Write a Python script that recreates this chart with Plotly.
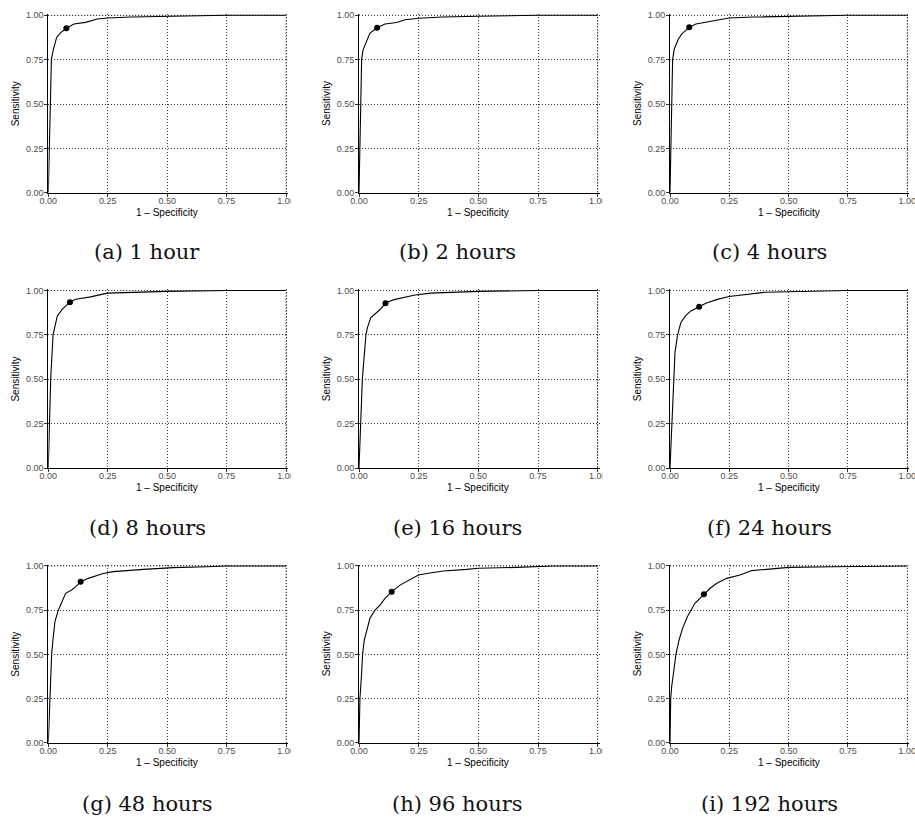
import plotly.graph_objects as go

# ---------------- data ----------------
captions = ["(a) 1 hour", "(b) 2 hours", "(c) 4 hours",
            "(d) 8 hours", "(e) 16 hours", "(f) 24 hours",
            "(g) 48 hours", "(h) 96 hours", "(i) 192 hours"]

fpr_a = [0, 0.002, 0.005, 0.007, 0.013, 0.02, 0.035, 0.05, 0.076, 0.108, 0.157, 0.206, 0.25, 0.35, 0.5, 0.75, 1.0]
tpr_a = [0, 0.10, 0.25, 0.5, 0.75, 0.80, 0.875, 0.90, 0.927, 0.951, 0.96, 0.979, 0.985, 0.99, 0.995, 1.0, 1.0]

fpr_b = [0, 0.003, 0.006, 0.011, 0.017, 0.035, 0.046, 0.076, 0.109, 0.158, 0.193, 0.25, 0.35, 0.5, 0.75, 1.0]
tpr_b = [0, 0.25, 0.5, 0.75, 0.805, 0.87, 0.90, 0.93, 0.951, 0.959, 0.975, 0.983, 0.99, 0.995, 1.0, 1.0]

fpr_c = [0, 0.003, 0.006, 0.011, 0.018, 0.035, 0.05, 0.081, 0.109, 0.164, 0.228, 0.25, 0.35, 0.5, 0.75, 1.0]
tpr_c = [0, 0.25, 0.5, 0.75, 0.81, 0.865, 0.895, 0.932, 0.951, 0.964, 0.983, 0.985, 0.99, 0.995, 1.0, 1.0]

fpr_d = [0, 0.004, 0.01, 0.02, 0.027, 0.038, 0.059, 0.091, 0.115, 0.178, 0.248, 0.35, 0.5, 0.75, 1.0]
tpr_d = [0, 0.25, 0.5, 0.75, 0.80, 0.857, 0.895, 0.934, 0.951, 0.964, 0.985, 0.99, 0.995, 1.0, 1.0]

fpr_e = [0, 0.007, 0.014, 0.029, 0.035, 0.049, 0.088, 0.111, 0.123, 0.151, 0.193, 0.235, 0.3, 0.5, 0.75, 1.0]
tpr_e = [0, 0.25, 0.5, 0.75, 0.79, 0.846, 0.893, 0.928, 0.937, 0.95, 0.964, 0.975, 0.985, 0.995, 1.0, 1.0]

fpr_f = [0, 0.008, 0.014, 0.021, 0.032, 0.046, 0.067, 0.088, 0.123, 0.151, 0.2, 0.249, 0.4, 0.55, 0.75, 1.0]
tpr_f = [0, 0.25, 0.5, 0.65, 0.75, 0.82, 0.86, 0.885, 0.909, 0.928, 0.95, 0.966, 0.99, 0.995, 1.0, 1.0]

fpr_g = [0, 0.007, 0.014, 0.021, 0.028, 0.042, 0.056, 0.073, 0.098, 0.116, 0.136, 0.168, 0.231, 0.273, 0.4, 0.526, 0.666, 0.75, 1.0]
tpr_g = [0, 0.25, 0.5, 0.6, 0.685, 0.75, 0.79, 0.845, 0.864, 0.883, 0.911, 0.93, 0.958, 0.968, 0.981, 0.991, 0.996, 1.0, 1.0]

fpr_h = [0, 0.004, 0.011, 0.015, 0.022, 0.039, 0.046, 0.067, 0.088, 0.109, 0.123, 0.137, 0.172, 0.214, 0.249, 0.284, 0.353, 0.451, 0.5, 0.661, 0.814, 1.0]
tpr_h = [0, 0.25, 0.394, 0.5, 0.58, 0.675, 0.704, 0.75, 0.779, 0.817, 0.836, 0.855, 0.892, 0.921, 0.949, 0.958, 0.972, 0.981, 0.987, 0.992, 1.0, 1.0]

fpr_i = [0, 0.003, 0.007, 0.021, 0.025, 0.038, 0.053, 0.073, 0.087, 0.105, 0.143, 0.169, 0.197, 0.239, 0.295, 0.344, 0.407, 0.5, 0.688, 0.941, 1.0]
tpr_i = [0, 0.25, 0.317, 0.449, 0.5, 0.58, 0.647, 0.713, 0.75, 0.789, 0.84, 0.874, 0.902, 0.93, 0.949, 0.974, 0.981, 0.992, 0.996, 0.996, 1.0]

# optimal cut-off points (1 - specificity, sensitivity)
opt_fpr = [0.076, 0.076, 0.081, 0.091, 0.111, 0.123, 0.136, 0.137, 0.143]
opt_tpr = [0.927, 0.930, 0.932, 0.934, 0.928, 0.909, 0.911, 0.855, 0.840]

tick_vals = [0, 0.25, 0.5, 0.75, 1.0]
x_tick_text = ["0.00", "0.25", "0.50", "0.75", "1.00"]
y_tick_text = ["0.00", "0.25", "0.50", "0.75", "1.00"]

curves = [(fpr_a, tpr_a), (fpr_b, tpr_b), (fpr_c, tpr_c),
          (fpr_d, tpr_d), (fpr_e, tpr_e), (fpr_f, tpr_f),
          (fpr_g, tpr_g), (fpr_h, tpr_h), (fpr_i, tpr_i)]

# ---------------- layout geometry (pixels) ----------------
W, H = 915, 820
col_x = [(48.3, 286.0), (359.0, 597.7), (670.0, 907.3)]
row_y = [(15.3, 192.7), (290.5, 468.0), (566.0, 742.7)]
cap_x = [147, 457, 769]
cap_y = [252, 527.5, 804]
EXT = 0.008  # small range extension so the lines at 1.0 are fully visible
GRID = dict(color="#3a3a3a", width=1, dash="1px,2px")

def px_x(v):
    return v / W

def px_y(v):
    return 1 - v / H

fig = go.Figure()
annotations = []
shapes = []

tick_font = dict(family="Liberation Sans, Arial, sans-serif", size=9, color="#4d4d4d")
title_font = dict(family="Liberation Sans, Arial, sans-serif", size=10, color="#000000")

for k, (fx, ty) in enumerate(curves):
    r, c = divmod(k, 3)
    n = k + 1
    xa = "x" if n == 1 else f"x{n}"
    ya = "y" if n == 1 else f"y{n}"
    fig.add_trace(go.Scatter(x=fx, y=ty, mode="lines", xaxis=xa, yaxis=ya,
                             line=dict(color="black", width=1.1), showlegend=False,
                             hoverinfo="skip"))
    fig.add_trace(go.Scatter(x=[opt_fpr[k]], y=[opt_tpr[k]], mode="markers",
                             xaxis=xa, yaxis=ya, cliponaxis=False,
                             marker=dict(color="black", size=6), showlegend=False))
    x0, x1 = col_x[c]
    y0, y1 = row_y[r]
    wpx = x1 - x0
    hpx = y1 - y0
    axis_common = dict(range=[0, 1 + EXT], tickvals=tick_vals, showgrid=True,
                       gridcolor=GRID["color"], griddash=GRID["dash"], gridwidth=1,
                       zeroline=False, showline=True, linecolor="black", linewidth=1,
                       ticks="outside", ticklen=3, tickcolor="#333333", tickwidth=1,
                       tickfont=tick_font, automargin=False, fixedrange=True,
                       ticklabeloverflow="allow")
    fig.layout[f"xaxis{'' if n == 1 else n}"] = dict(
        domain=[px_x(x0), px_x(x1 + wpx * EXT)], anchor=ya, ticktext=x_tick_text,
        ticklabelstandoff=-4, **axis_common)
    fig.layout[f"yaxis{'' if n == 1 else n}"] = dict(
        domain=[px_y(y1), px_y(y0 - hpx * EXT)], anchor=xa, ticktext=y_tick_text,
        ticklabelstandoff=-1, **axis_common)

    # dotted grid lines at the 1.0 ends (right and top of each panel)
    shapes.append(dict(type="line", xref=xa, yref=ya, x0=1, x1=1, y0=0, y1=1,
                       line=GRID, layer="below"))
    shapes.append(dict(type="line", xref=xa, yref=ya, x0=0, x1=1, y0=1, y1=1,
                       line=GRID, layer="below"))

    # axis titles
    annotations.append(dict(text="1 \u2013 Specificity", xref="paper", yref="paper",
                            x=px_x((x0 + x1) / 2), y=px_y(y1 + 19.5),
                            xanchor="center", yanchor="middle", showarrow=False,
                            font=title_font))
    annotations.append(dict(text="Sensitivity", xref="paper", yref="paper",
                            x=px_x(x0 - 33), y=px_y((y0 + y1) / 2), textangle=-90,
                            xanchor="center", yanchor="middle", showarrow=False,
                            font=title_font))
    # caption
    annotations.append(dict(text=captions[k], xref="paper", yref="paper",
                            x=px_x(cap_x[c]), y=px_y(cap_y[r]),
                            xanchor="center", yanchor="middle", showarrow=False,
                            font=dict(family="DejaVu Serif, serif", size=21, color="#111111")))
    # the sub-figure images are cropped just right of the last x tick label
    if c < 2:
        shapes.append(dict(type="rect", xref="paper", yref="paper", layer="above",
                           x0=px_x(x1 + 4.7), x1=px_x(x1 + 14), y0=px_y(y1 + 13),
                           y1=px_y(y1 + 3.5), fillcolor="white", line=dict(width=0)))

fig.update_layout(width=W, height=H, margin=dict(l=0, r=0, t=0, b=0),
                  paper_bgcolor="white", plot_bgcolor="white",
                  annotations=annotations, shapes=shapes, showlegend=False)

fig.write_html("out.html")
